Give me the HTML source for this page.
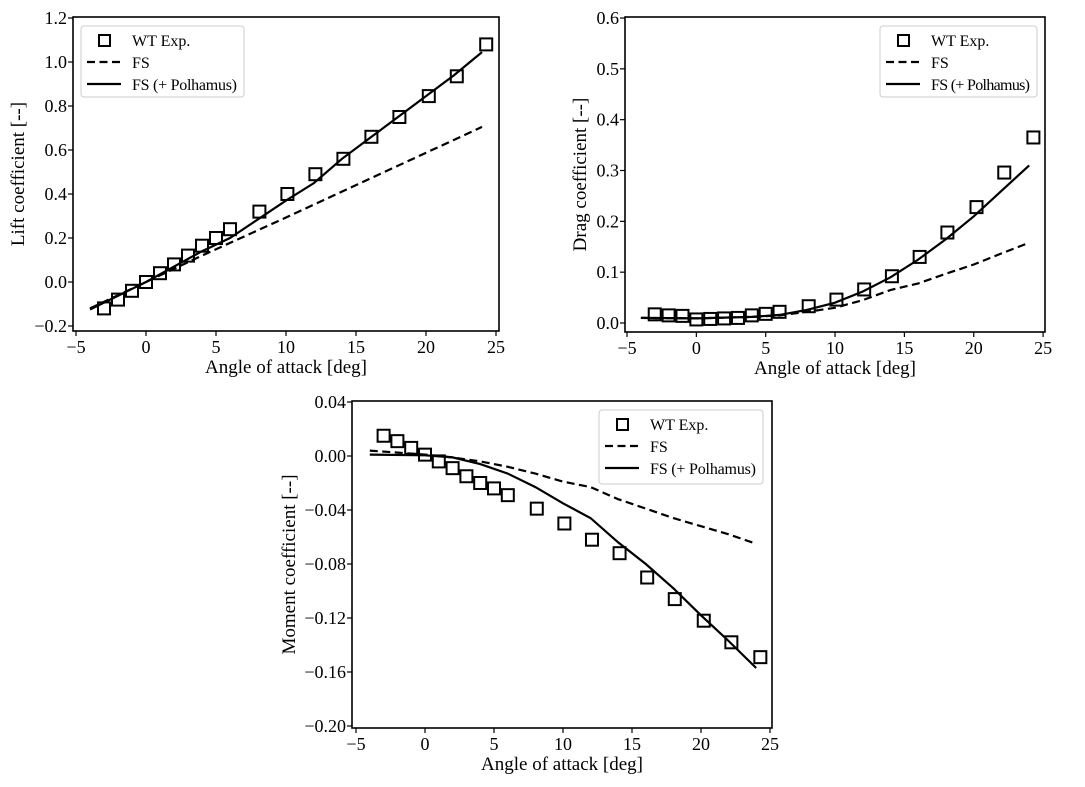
<!DOCTYPE html>
<html><head><meta charset="utf-8"><style>
html,body{margin:0;padding:0;background:#fff;}
svg{display:block;font-family:"Liberation Serif",serif;}
</style></head><body>
<svg id="s" width="1085" height="787" viewBox="0 0 1085 787" xmlns="http://www.w3.org/2000/svg"></svg>
<script>
const S=document.getElementById('s');let h='';
function chart(c){
 const X=a=>c.x0+(a-c.xa)*c.xs, Y=v=>c.y0-(v-c.ya)*c.ys;
 for(let a=-5;a<=25;a+=5){const x=X(a);h+=`<line x1="${x}" y1="${c.B}" x2="${x}" y2="${c.B+5}" stroke="#000" stroke-width="1.2"/><text x="${x}" y="${c.B+22}" font-size="18" text-anchor="middle">${a<0?'\u2212'+(-a):a}</text>`;}
 c.yt.forEach(v=>{const y=Y(v);h+=`<line x1="${c.L-5}" y1="${y}" x2="${c.L}" y2="${y}" stroke="#000" stroke-width="1.2"/><text x="${c.L-6}" y="${y+6}" font-size="18" text-anchor="end">${v<0?'\u2212'+(-v).toFixed(c.d):v.toFixed(c.d)}</text>`;});
 const pl=(p,da)=>h+=`<polyline fill="none" stroke="#000" stroke-width="2.2" ${da?'stroke-dasharray="8,4.5"':''} points="${p.map(q=>X(q[0]).toFixed(1)+','+Y(q[1]).toFixed(1)).join(' ')}"/>`;
 pl(c.fs,1);pl(c.po,0);
 c.wt.forEach(q=>{h+=`<rect x="${X(q[0])-6}" y="${Y(q[1])-6}" width="12" height="12" fill="none" stroke="#000" stroke-width="2"/>`;});
 h+=`<rect x="${c.L}" y="${c.T}" width="${c.R-c.L}" height="${c.B-c.T}" fill="none" stroke="#000" stroke-width="1.6"/>`;
 const g=c.lg;
 h+=`<rect x="${g[0]}" y="${g[1]}" width="${g[2]}" height="${g[3]}" rx="3" fill="#fff" stroke="#ccc" stroke-width="1"/>`;
 const lx=g[0]+6,ty=g[1];
 h+=`<rect x="${lx+12}" y="${ty+9}" width="11" height="11" fill="none" stroke="#000" stroke-width="2"/><text x="${lx+45}" y="${ty+20}" font-size="16">WT Exp.</text>`;
 h+=`<line x1="${lx}" y1="${ty+36}" x2="${lx+34}" y2="${ty+36}" stroke="#000" stroke-width="2.2" stroke-dasharray="8,4.5"/><text x="${lx+45}" y="${ty+42}" font-size="16">FS</text>`;
 h+=`<line x1="${lx}" y1="${ty+58}" x2="${lx+34}" y2="${ty+58}" stroke="#000" stroke-width="2.2"/><text x="${lx+45}" y="${ty+64}" font-size="16" textLength="${g[2]-58}">FS (+ Polhamus)</text>`;
 h+=`<text x="${(c.L+c.R)/2}" y="${c.B+42}" font-size="19" text-anchor="middle">Angle of attack [deg]</text>`;
 h+=`<text transform="translate(${c.yl},${(c.T+c.B)/2}) rotate(-90)" font-size="19" text-anchor="middle">${c.lab}</text>`;
}
const xs=[-3,-2,-1,0,1,2,3,4,5,6,8.1,10.1,12.1,14.1,16.1,18.1,20.2,22.2,24.3];
const z=(a,b)=>a.map((v,i)=>[v,b[i]]);
chart({L:73,R:499,T:17,B:331,x0:76,xa:-5,xs:14,y0:282,ya:0,ys:220,yt:[-0.2,0,0.2,0.4,0.6,0.8,1.0,1.2],d:1,yl:24,lab:'Lift coefficient [--]',lg:[81,26,163,71],
 wt:z(xs,[-0.12,-0.08,-0.04,0,0.04,0.08,0.12,0.165,0.2,0.24,0.32,0.4,0.49,0.56,0.66,0.75,0.845,0.935,1.08]),
 fs:[[-4,-0.12],[0,0],[4,0.12],[10,0.293],[24,0.705]],
 po:[[-4,-0.125],[0,0],[4,0.14],[6,0.2],[8,0.285],[10,0.37],[12,0.45],[14,0.56],[16,0.655],[18,0.75],[20,0.845],[22,0.94],[24,1.045]]});
chart({L:625,R:1045,T:17,B:332,x0:627,xa:-5,xs:13.87,y0:323,ya:0,ys:508.3,yt:[0,0.1,0.2,0.3,0.4,0.5,0.6],d:1,yl:586,lab:'Drag coefficient [--]',lg:[880,26,157,71],
 wt:z(xs,[0.017,0.015,0.014,0.007,0.008,0.009,0.01,0.015,0.018,0.022,0.033,0.046,0.066,0.092,0.13,0.178,0.228,0.296,0.365]),
 fs:[[-4,0.01],[0,0.009],[4,0.012],[6,0.015],[8,0.022],[10,0.03],[12,0.045],[14,0.065],[16,0.078],[18,0.097],[20,0.115],[22,0.137],[24,0.158]],
 po:[[-4,0.01],[0,0.009],[4,0.012],[6,0.016],[8,0.026],[10,0.04],[12,0.062],[14,0.09],[16,0.125],[18,0.165],[20,0.21],[22,0.26],[24,0.31]]});
chart({L:352,R:772,T:401,B:728,x0:356,xa:-5,xs:13.8,y0:402,ya:0.04,ys:1350,yt:[-0.2,-0.16,-0.12,-0.08,-0.04,0,0.04],d:2,yl:295,lab:'Moment coefficient [--]',lg:[599,410,164,74],
 wt:z(xs,[0.015,0.011,0.006,0.001,-0.004,-0.009,-0.015,-0.02,-0.024,-0.029,-0.039,-0.05,-0.062,-0.072,-0.09,-0.106,-0.122,-0.138,-0.149]),
 fs:[[-4,0.004],[0,0.001],[2,-0.001],[4,-0.004],[6,-0.008],[8,-0.013],[10,-0.019],[12,-0.023],[14,-0.032],[16,-0.039],[18,-0.046],[20,-0.052],[22,-0.058],[24,-0.065]],
 po:[[-4,0.001],[0,0.0005],[2,-0.001],[4,-0.006],[6,-0.013],[8,-0.023],[10,-0.035],[12,-0.046],[14,-0.064],[16,-0.08],[18,-0.098],[20,-0.118],[22,-0.137],[24,-0.157]]});
S.innerHTML=h;
</script>
</body></html>
